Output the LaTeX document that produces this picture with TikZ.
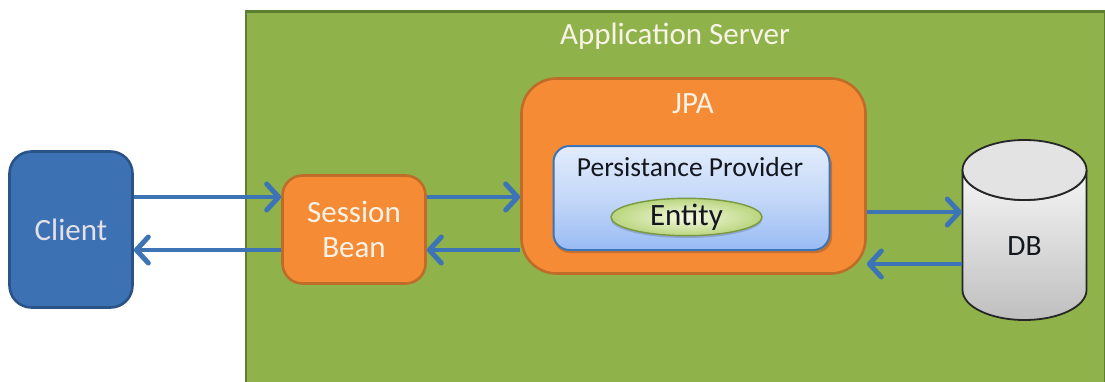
\documentclass[tikz,border=0pt]{standalone}
\usepackage{fontspec}
\setmainfont{Carlito}
\usetikzlibrary{arrows.meta,shapes.geometric,calc}
\definecolor{srvfill}{HTML}{8FB34A}
\definecolor{srvline}{HTML}{5E7F32}
\definecolor{orgfill}{HTML}{F68B36}
\definecolor{orgline}{HTML}{BE6C28}
\definecolor{bluefill}{HTML}{3C71B3}
\definecolor{blueline}{HTML}{2A5488}
\definecolor{arrowblue}{HTML}{3C74B6}
\definecolor{paletext}{HTML}{F8F3E6}
\definecolor{darktext}{HTML}{14161E}
\definecolor{provtop}{HTML}{E2ECFC}
\definecolor{provmid}{HTML}{C4D8F8}
\definecolor{provbot}{HTML}{98BBF4}
\definecolor{enttop}{HTML}{F6FAE2}
\definecolor{entout}{HTML}{B9D57E}
\tikzset{
  box/.style={rectangle,draw,line width=2.6pt,inner sep=0pt,anchor=center},
  orangebox/.style={box,fill=orgfill,draw=orgline,text=paletext},
  link/.style={draw=arrowblue,line width=4.8pt,-{Straight Barb[length=12pt,width=26pt,line width=5pt,round]}},
  lab/.style={font=\fontsize{31}{35}\selectfont,align=center}
}
\begin{document}
\begin{tikzpicture}[x=1pt,y=-1pt]
\useasboundingbox (0,0) rectangle (1105,381);
\fill[white] (0,0) rectangle (1105,381);
% server
\node[box,fill=srvfill,draw=srvline,minimum width=859pt,minimum height=385pt] (server) at (675.5,204) {};
\node[lab,text=paletext] (servertitle) at (675,36) {Application Server};
% client
\node[box,fill=bluefill,draw=blueline,rounded corners=22pt,minimum width=123pt,minimum height=156pt,text=paletext!92!blue,lab] (client) at (71,229.5) {Client};
% session
\node[orangebox,rounded corners=20pt,minimum width=143pt,minimum height=108pt,lab] (session) at (354,229.5) {Session\\Bean};
% JPA
\node[orangebox,rounded corners=35pt,minimum width=344pt,minimum height=195pt] (jpa) at (693.5,176) {};
\node[lab,text=paletext] (jpatitle) at (693,104) {JPA};
% provider
\fill[black,opacity=.18,rounded corners=16pt] (554,149) rectangle (832,253);
\node[box,draw=arrowblue,line width=2pt,rounded corners=16pt,top color=provtop,bottom color=provbot,middle color=provmid,minimum width=276pt,minimum height=104pt] (provider) at (691.5,198) {};
\node[text=darktext,font=\fontsize{27.5}{32}\selectfont] (providertitle) at (690,167) {Persistance Provider};
% entity
\fill[black,opacity=.15] (686.5,219) ellipse [x radius=76pt,y radius=19pt];
\node[ellipse,draw=srvfill!85!black,line width=1.4pt,inner sep=0pt,minimum width=151pt,minimum height=37pt,inner color=enttop,outer color=entout,text=darktext,font=\fontsize{31}{35}\selectfont] (entity) at (686.5,217) {Entity};
% DB
\node[minimum width=125pt,minimum height=180pt,inner sep=0pt] (db) at (1024.5,230) {};
\path[top color=gray!8,bottom color=gray!50,draw=black!85,line width=1.8pt]
  (962.5,170) -- (962.5,290) arc [start angle=180,end angle=360,x radius=62pt,y radius=30pt] -- (1086.5,170)
  arc [start angle=0,end angle=-180,x radius=62pt,y radius=30pt] -- cycle;
\path[fill=gray!22,draw=black!85,line width=1.8pt] (1024.5,170) ellipse [x radius=62pt,y radius=30pt];
\node[text=darktext,font=\fontsize{29.5}{34}\selectfont] (dblabel) at (1024.5,246) {DB};
% arrows
\draw[link] ([yshift=32.5pt]client.east) -- ([yshift=32.5pt]session.west);
\draw[link] ([yshift=-20.5pt]session.west) -- ([yshift=-20.5pt]client.east);
\draw[link] ([yshift=32.5pt]session.east) -- ([yshift=32.5pt]jpa.west |- session.east);
\draw[link] ([yshift=-20.5pt]jpa.west |- session.west) -- ([yshift=-20.5pt]session.east);
\draw[link] ([yshift=-36pt]jpa.east) -- ([yshift=-36pt]jpa.east -| db.west);
\draw[link] ([yshift=-88pt]jpa.east -| db.west) -- ([yshift=-88pt]jpa.east);
\end{tikzpicture}
\end{document}
